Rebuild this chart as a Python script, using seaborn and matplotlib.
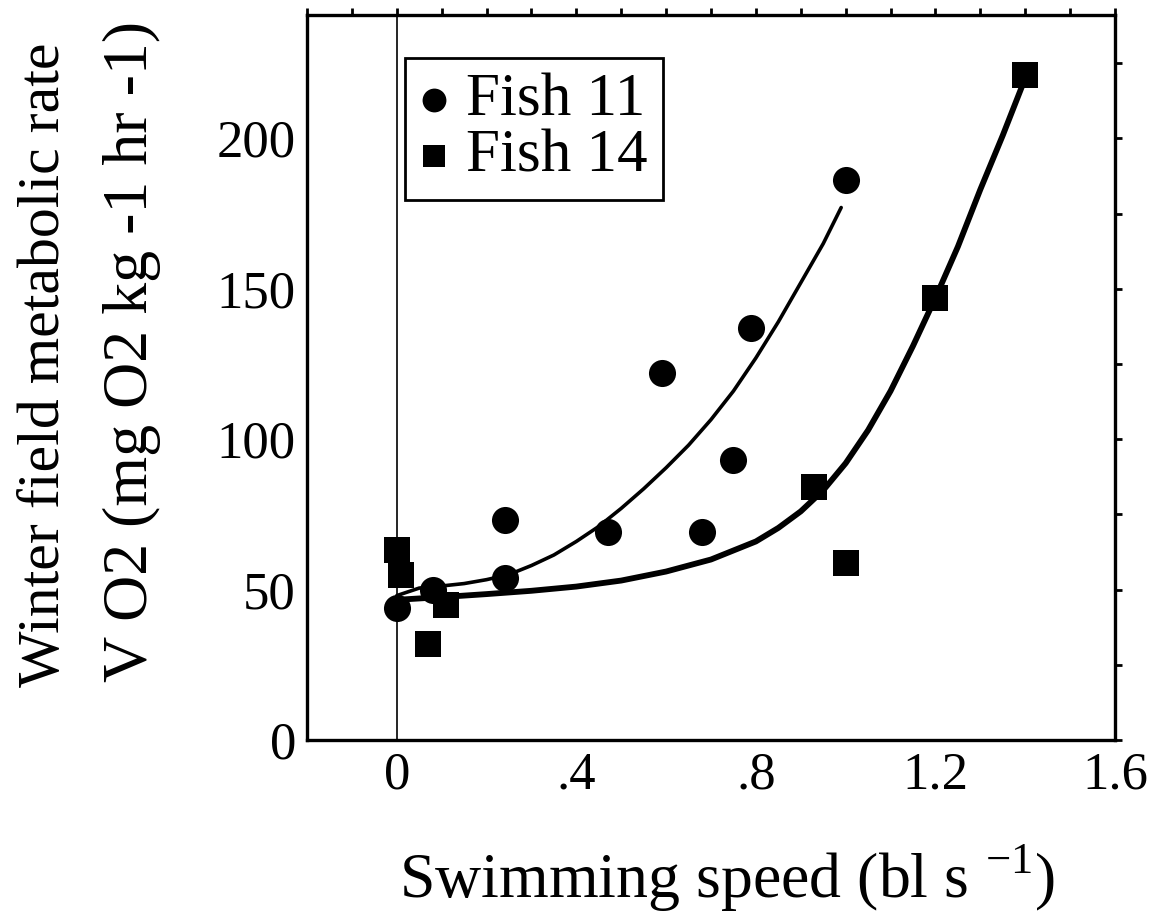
import matplotlib
matplotlib.use("Agg")
import matplotlib.pyplot as plt
import seaborn as sns
import numpy as np

# measured points
fish11_speed = [0.0, 0.08, 0.24, 0.24, 0.47, 0.59, 0.68, 0.75, 0.79, 1.0]
fish11_vo2 = [44, 50, 54, 73, 69, 122, 69, 93, 137, 186]
fish14_speed = [0.0, 0.01, 0.07, 0.11, 0.93, 1.0, 1.2, 1.4]
fish14_vo2 = [63, 55, 32, 45, 84, 59, 147, 221]

# fitted curves
fit11_speed = [0.0, 0.05, 0.10, 0.15, 0.20, 0.25, 0.30, 0.35, 0.40, 0.45, 0.50, 0.55,
               0.60, 0.65, 0.70, 0.75, 0.80, 0.85, 0.90, 0.95, 0.99]
fit11_vo2 = [48, 50.5, 51.2, 52, 53.3, 55, 58, 61.5, 66, 71, 77, 83.5,
             90.5, 98, 106.5, 116, 127, 139, 152, 165, 177]
fit14_speed = [0.0, 0.1, 0.2, 0.3, 0.4, 0.5, 0.6, 0.7, 0.8, 0.85, 0.9, 0.95,
               1.0, 1.05, 1.1, 1.15, 1.2, 1.25, 1.3, 1.35, 1.40]
fit14_vo2 = [46.6, 47.5, 48.5, 49.6, 51, 53, 56, 60, 66, 70.5, 76, 83,
             92, 103, 116, 131, 147, 164, 183, 201, 220]

x_ticklabels = {0.0: "0", 0.4: ".4", 0.8: ".8", 1.2: "1.2", 1.6: "1.6"}
y_ticklabels = {0: "0", 50: "50", 100: "100", 150: "150", 200: "200"}

sns.set_style("white")
plt.rcParams["font.family"] = ["Liberation Serif", "DejaVu Serif"]
plt.rcParams["text.color"] = "black"
plt.rcParams["mathtext.fontset"] = "custom"
plt.rcParams["mathtext.rm"] = "Liberation Serif"

fig = plt.figure(figsize=(11.68, 9.22), dpi=100)
ax = fig.add_axes([307 / 1168, 1 - 740 / 922, 808 / 1168, 725 / 922])

ax.axvline(0, color="black", lw=1.2, zorder=1)

sns.lineplot(x=fit11_speed, y=fit11_vo2, sort=False, estimator=None, color="black", lw=2.6,
             solid_joinstyle="round", solid_capstyle="round", ax=ax)
sns.lineplot(x=fit14_speed, y=fit14_vo2, sort=False, estimator=None, color="black", lw=4.2,
             solid_joinstyle="round", solid_capstyle="round", ax=ax)

sns.scatterplot(x=fish11_speed, y=fish11_vo2, marker="o", s=380, color="black", edgecolor="black",
                linewidth=0, label="Fish 11", ax=ax, zorder=3)
sns.scatterplot(x=fish14_speed, y=fish14_vo2, marker="s", s=330, color="black", edgecolor="black",
                linewidth=0, label="Fish 14", ax=ax, zorder=3)

ax.set_xlim(-0.2, 1.6)
ax.set_ylim(0, 241)

xt = np.round(np.arange(-0.2, 1.61, 0.1), 1)
ax.set_xticks(xt)
ax.set_xticklabels([x_ticklabels.get(float(v), "") for v in xt])
yt = np.arange(0, 241, 25)
ax.set_yticks(yt)
ax.set_yticklabels([y_ticklabels.get(int(v), "") for v in yt])

ax.tick_params(direction="out", top=True, right=True, length=5, width=2,
               labelsize=38, pad=3, color="black", labelcolor="black")
for sp in ax.spines.values():
    sp.set_visible(True)
    sp.set_color("black")
    sp.set_linewidth(2.4)

leg = ax.legend(loc="upper left", bbox_to_anchor=(0.121, 0.941), borderaxespad=0,
                fontsize=44, frameon=True, fancybox=False, edgecolor="black", framealpha=1,
                handlelength=0.45, handletextpad=0.3, labelspacing=0.0, borderpad=0.25,
                markerscale=0.88)
leg.get_frame().set_linewidth(2)

ax.set_xlabel("")
ax.set_ylabel("")
fig.text(727 / 1168, 1 - 878 / 922, "Swimming speed (bl s $^{\\mathregular{-1}}$)", fontsize=46,
         ha="center", va="center")
fig.text(45 / 1168, 1 - 365 / 922, "Winter field metabolic rate", fontsize=43,
         ha="center", va="center", rotation=90)
fig.text(132 / 1168, 1 - 352 / 922, "V O2 (mg O2 kg -1 hr -1)", fontsize=46,
         ha="center", va="center", rotation=90)

fig.savefig("out.png", dpi=100)
